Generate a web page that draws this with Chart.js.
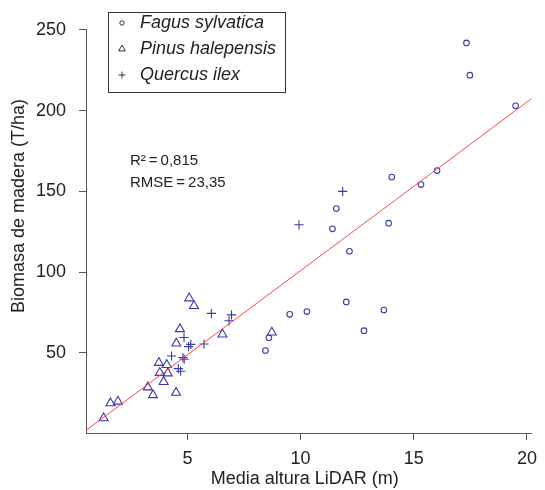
<!DOCTYPE html>
<html>
<head>
<meta charset="utf-8">
<script src="https://cdn.jsdelivr.net/npm/chart.js@4/dist/chart.umd.min.js"></script>
<style>
  html, body { margin: 0; padding: 0; background: #ffffff; }
  #wrap { width: 545px; height: 490px; position: relative; }
</style>
</head>
<body>
<div id="wrap"><canvas id="c" width="545" height="490"></canvas></div>
<script>
// Axis ticks
const xTicks = [5, 10, 15, 20];
const yTicks = [50, 100, 150, 200, 250];

// Fagus sylvatica plots: mean LiDAR height (m) and wood biomass (T/ha)
const fagusX = [8.45, 8.60, 9.52, 10.28, 11.41, 11.58, 12.02, 12.16, 12.80, 13.68, 13.89, 14.03, 15.32, 16.03, 17.33, 17.48, 19.50];
const fagusY = [51.4, 59.3, 73.8, 75.5, 126.8, 139.4, 81.5, 112.9, 63.7, 76.5, 130.3, 158.9, 154.2, 162.9, 242.0, 222.0, 203.0];

// Pinus halepensis plots
const pinusX = [1.30, 1.60, 1.93, 3.25, 3.48, 3.74, 3.78, 3.95, 4.09, 4.13, 4.50, 4.51, 4.67, 5.08, 5.29, 6.55, 8.73];
const pinusY = [9.5, 18.8, 19.8, 28.6, 23.8, 43.8, 37.6, 32.0, 42.5, 37.3, 25.3, 55.8, 64.7, 83.8, 79.0, 61.4, 62.6];

// Quercus ilex plots
const quercusX = [4.30, 4.80, 4.86, 4.60, 4.70, 4.85, 5.05, 5.15, 5.73, 6.06, 6.95, 6.84, 9.93, 11.86];
const quercusY = [48.0, 47.0, 46.0, 40.2, 38.6, 59.5, 53.8, 55.2, 55.4, 74.4, 73.5, 69.8, 129.3, 150.0];

// Fitted regression line, end points across the x range
const fitX = [0.52, 20.2];
const fitY = [1.9, 207.4];

// Fit statistics
const statLines = ['R\u00B2\u2009=\u20090,815', 'RMSE\u2009=\u200923,35'];

const species = ['Fagus sylvatica', 'Pinus halepensis', 'Quercus ilex'];
const axisTitleX = 'Media altura LiDAR (m)';
const axisTitleY = 'Biomasa de madera (T/ha)';

const FONT = '"Liberation Sans", Arial, Helvetica, sans-serif';
const MARK = 'rgb(58,58,168)';
const AXIS = '#555555';

const pts = (xs, ys) => xs.map((x, i) => ({ x: x, y: ys[i] }));

const markStyles = [
  { pointStyle: 'circle', radius: 2.8 },
  { pointStyle: 'triangle', radius: 5.2 },
  { pointStyle: 'cross', radius: 4.6 }
];

// Legend box, fit statistics and axis titles
const annotations = {
  id: 'annotations',
  afterDraw(chart) {
    const ctx = chart.ctx;
    const area = chart.chartArea;
    ctx.save();

    // legend frame
    ctx.strokeStyle = '#333333';
    ctx.lineWidth = 1;
    ctx.strokeRect(108.5, 12.5, 177, 80);

    ctx.font = 'italic 18px ' + FONT;
    ctx.textBaseline = 'middle';
    ctx.textAlign = 'left';
    species.forEach((name, i) => {
      const y = 23 + i * 26;
      ctx.strokeStyle = '#333333';
      ctx.fillStyle = 'rgba(0,0,0,0)';
      ctx.lineWidth = 1;
      const st = markStyles[i];
      Chart.helpers.drawPoint(ctx, {
        pointStyle: st.pointStyle,
        radius: i === 0 ? 2.2 : st.radius * 0.75,
        borderWidth: 1,
        rotation: 0
      }, 122, y);
      ctx.fillStyle = '#222222';
      ctx.fillText(name, 140, y);
    });

    // fit statistics
    ctx.font = '15px ' + FONT;
    ctx.fillStyle = '#222222';
    ctx.textBaseline = 'alphabetic';
    ctx.fillText(statLines[0], 130, 165);
    ctx.fillText(statLines[1], 130, 187);

    // axis titles
    ctx.font = '18px ' + FONT;
    ctx.textAlign = 'center';
    ctx.textBaseline = 'middle';
    ctx.fillText(axisTitleX, (area.left + area.right) / 2 - 4, 479);
    ctx.translate(19, 206);
    ctx.rotate(-Math.PI / 2);
    ctx.fillText(axisTitleY, 0, 0);
    ctx.restore();
  }
};

new Chart(document.getElementById('c'), {
  type: 'scatter',
  data: {
    datasets: [
      {
        label: species[0],
        data: pts(fagusX, fagusY),
        pointStyle: 'circle',
        pointRadius: markStyles[0].radius,
        borderColor: MARK,
        backgroundColor: 'rgba(0,0,0,0)',
        borderWidth: 1.1
      },
      {
        label: species[1],
        data: pts(pinusX, pinusY),
        pointStyle: 'triangle',
        pointRadius: markStyles[1].radius,
        borderColor: MARK,
        backgroundColor: 'rgba(0,0,0,0)',
        borderWidth: 1.1
      },
      {
        label: species[2],
        data: pts(quercusX, quercusY),
        pointStyle: 'cross',
        pointRadius: markStyles[2].radius,
        borderColor: MARK,
        backgroundColor: 'rgba(0,0,0,0)',
        borderWidth: 1.1
      },
      {
        label: 'Ajuste',
        type: 'line',
        data: pts(fitX, fitY),
        showLine: true,
        pointRadius: 0,
        borderColor: 'rgb(255,70,70)',
        borderWidth: 1,
        fill: false,
        order: -1
      }
    ]
  },
  options: {
    responsive: false,
    animation: false,
    layout: { padding: { top: 29, right: 6, bottom: 0, left: 0 } },
    plugins: {
      legend: { display: false },
      tooltip: { enabled: false }
    },
    scales: {
      x: {
        type: 'linear',
        min: 0.52,
        max: 20.2,
        afterBuildTicks: (s) => { s.ticks = xTicks.map(v => ({ value: v })); },
        afterFit: (s) => { s.height = 57; },
        grid: { drawOnChartArea: false, drawTicks: true, tickLength: 7, color: AXIS },
        border: { display: true, color: AXIS, width: 1 },
        ticks: { font: { family: FONT, size: 18 }, color: '#222222', padding: 8, maxRotation: 0 }
      },
      y: {
        type: 'linear',
        min: 0.3,
        max: 250.6,
        afterBuildTicks: (s) => { s.ticks = yTicks.map(v => ({ value: v })); },
        afterFit: (s) => { s.width = 86; },
        grid: { drawOnChartArea: false, drawTicks: true, tickLength: 7, color: AXIS },
        border: { display: true, color: AXIS, width: 1 },
        ticks: { font: { family: FONT, size: 18 }, color: '#222222', padding: 13 }
      }
    }
  },
  plugins: [annotations]
});
</script>
</body>
</html>
